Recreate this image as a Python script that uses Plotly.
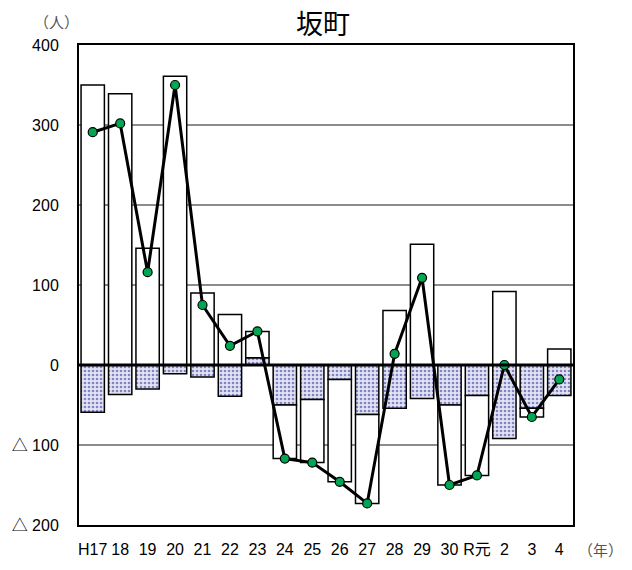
import plotly.graph_objects as go

# Population change by year: natural change (dotted) and social change (white)
years = ["H17", "18", "19", "20", "21", "22", "23", "24", "25",
         "26", "27", "28", "29", "30", "R元", "2", "3", "4"]
natural = [-59, -37, -30, -11, -15, -39, 9, -50, -43,
           -18, -62, -54, -42, -50, -38, -92, -54, -38]
social = [350, 339, 146, 361, 90, 63, 33, -67, -79,
          -128, -111, 68, 151, -100, -100, 92, -11, 20]
total = [n + s for n, s in zip(natural, social)]

y_ticks = [-200, -100, 0, 100, 200, 300, 400]
y_tick_text = ["△ 200", "△ 100", "0", "100", "200", "300", "400"]

FONT = "Liberation Sans, Arial, Noto Sans CJK JP, sans-serif"
CJK = "Noto Sans CJK JP, sans-serif"

L, R, T, B = 78, 59, 45, 40
W, H = 632, 570
PW, PH = W - L - R, H - T - B

fig = go.Figure()

fig.add_trace(go.Bar(
    x=years, y=natural, name="自然動態",
    marker=dict(
        color="#e2e4f5",
        line=dict(color="black", width=1.5),
        pattern=dict(shape=".", fgcolor="#24248a", bgcolor="#e2e4f5",
                     size=4, solidity=0.35),
    ),
))
fig.add_trace(go.Bar(
    x=years, y=social, name="社会動態",
    marker=dict(color="white", line=dict(color="black", width=1.5)),
))
fig.add_trace(go.Scatter(
    x=years, y=total, name="人口増減", mode="lines+markers",
    line=dict(color="black", width=3),
    marker=dict(color="#00a651", size=9, line=dict(color="black", width=1.2)),
))

# zero baseline drawn over the bars
fig.add_shape(type="line", xref="paper", yref="y", x0=0, x1=1, y0=0, y1=0,
              line=dict(color="black", width=3), layer="above")

fig.update_layout(
    width=W, height=H,
    margin=dict(l=L, r=R, t=T, b=B),
    paper_bgcolor="white", plot_bgcolor="white",
    barmode="relative", bargap=0.15,
    showlegend=False,
    font=dict(family=FONT, size=16, color="black"),
)

# title and unit labels positioned in page pixels
fig.add_annotation(text="坂町", xref="paper", yref="paper",
                   x=(322 - L) / PW, y=1 + (T - 22) / PH,
                   showarrow=False, xanchor="center", yanchor="middle",
                   font=dict(family=CJK, size=27, color="black", weight="normal"))
fig.add_annotation(text="（人）", xref="paper", yref="paper",
                   x=(55 - L) / PW, y=1 + (T - 21) / PH,
                   showarrow=False, xanchor="center", yanchor="middle",
                   font=dict(family=CJK, size=15, color="#555"))
fig.add_annotation(text="（年）", xref="paper", yref="paper",
                   x=(601 - L) / PW, y=-(555 - (H - B)) / PH,
                   showarrow=False, xanchor="center", yanchor="middle",
                   font=dict(family=CJK, size=15, color="#555"))

fig.update_xaxes(
    range=[-0.5, len(years) - 0.5],
    showline=True, linecolor="black", linewidth=2, mirror=True,
    showgrid=False, ticks="", ticklabelstandoff=9,
    tickfont=dict(family=FONT, size=16, color="black"),
)
fig.update_yaxes(
    range=[-200, 400], tickvals=y_ticks, ticktext=y_tick_text,
    showline=True, linecolor="black", linewidth=2, mirror=True,
    showgrid=True, gridcolor="#8c8c8c", gridwidth=1.5,
    zeroline=False, ticks="", ticklabelstandoff=15,
    tickfont=dict(family=FONT, size=16, color="black"),
)

fig.write_html("out.html")
